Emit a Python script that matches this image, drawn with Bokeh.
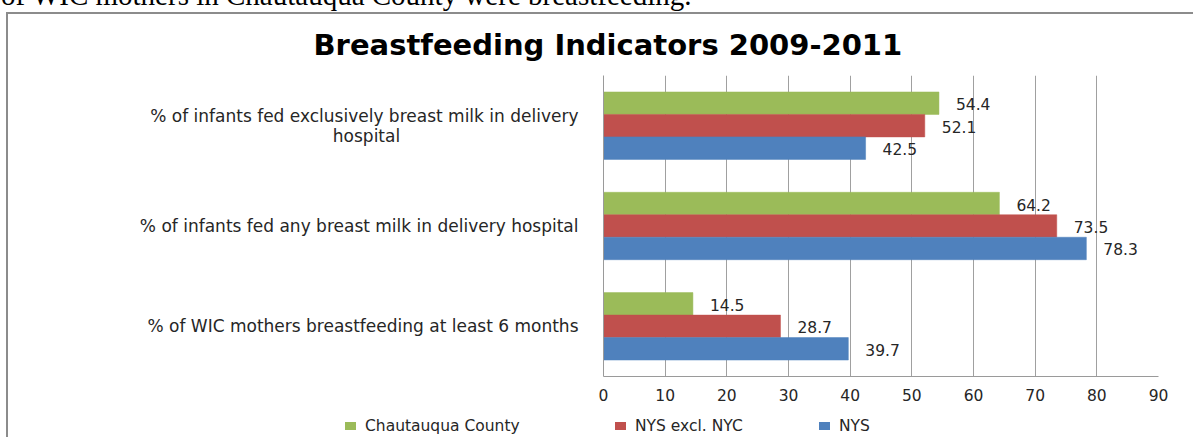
from bokeh.plotting import figure
from bokeh.models import (FactorRange, ColumnDataSource, LabelSet, FixedTicker, Div)
from bokeh.core.properties import value
from bokeh.transform import dodge
from bokeh.layouts import column
from bokeh.embed import file_html
from bokeh.resources import INLINE

# ---- data ----
NB = "\u00a0"
categories = [
    "% of infants fed exclusively breast milk in delivery\nhospital" + NB * 33,
    "% of infants fed any breast milk in delivery hospital",
    "% of WIC mothers breastfeeding at least 6 months",
]
chautauqua = [54.4, 64.2, 14.5]
nys_excl_nyc = [52.1, 73.5, 28.7]
nys = [42.5, 78.3, 39.7]
series_names = ["Chautauqua County", "NYS excl. NYC", "NYS"]
series_colors = ["#9BBB59", "#C0504D", "#4F81BD"]
x_ticks = [0, 10, 20, 30, 40, 50, 60, 70, 80, 90]
title_text = "Breastfeeding Indicators 2009-2011"
page_text = "of WIC mothers in Chautauqua County were breastfeeding."

TOTAL_W = 1193
GRAY = "#8c8c8c"

# ---- strip with the cut-off document line above the chart ----
top_html = (
    '<div style="position:relative;width:1193px;height:12px;overflow:hidden;">'
    '<span style="position:absolute;left:1px;top:-19px;font-family:\'Liberation Serif\';'
    'font-size:29px;line-height:29px;white-space:nowrap;color:#000;">'
    f'{page_text}</span></div>'
)
d0 = Div(text=top_html, width=TOTAL_W, height=12, margin=0)

# ---- main chart ----
p = figure(width=TOTAL_W, height=391, frame_width=555, frame_height=301,
           output_backend="svg", toolbar_location=None,
           y_range=FactorRange(*reversed(categories), range_padding=0),
           x_range=(0, 90),
           min_border_left=603, min_border_right=35, min_border_top=59, min_border_bottom=31)
p.outline_line_color = None
p.border_fill_color = None
p.background_fill_color = None
p.styles = {"box-shadow": f"inset 6px 0 0 0 #ffffff, inset 0 2px 0 0 {GRAY}, inset 8px 0 0 0 {GRAY}"}

source = ColumnDataSource(dict(cat=categories, c=chautauqua, r=nys_excl_nyc, n=nys,
                               cl=[f"{v}" for v in chautauqua],
                               rl=[f"{v}" for v in nys_excl_nyc],
                               nl=[f"{v}" for v in nys]))

bh = 0.224
offsets = [bh, 0.0, -bh]
fields = ["c", "r", "n"]
lfields = ["cl", "rl", "nl"]
for f, lf, off, col in zip(fields, lfields, offsets, series_colors):
    p.hbar(y=dodge("cat", off, range=p.y_range), right=f, left=0, height=bh,
           source=source, fill_color=col, line_color=col, line_width=0.5)
    p.add_layout(LabelSet(x=f, y=dodge("cat", off, range=p.y_range), text=lf, source=source,
                          x_offset=17, y_offset=-1, text_baseline="middle", text_align="left",
                          text_font=value("DejaVu Sans"), text_font_size=value("15.5px"),
                          text_color="#262626"))

# x axis
p.xaxis.ticker = FixedTicker(ticks=x_ticks)
p.xaxis.axis_line_color = "#9a9a9a"
p.xaxis.major_tick_line_color = None
p.xaxis.minor_tick_line_color = None
p.xaxis.major_tick_out = 0
p.xaxis.major_tick_in = 0
p.xaxis.major_label_standoff = 12
p.xaxis.major_label_text_font = "DejaVu Sans"
p.xaxis.major_label_text_font_size = "15.5px"
p.xaxis.major_label_text_color = "#262626"

# y axis (categories)
p.yaxis.axis_line_color = "#9a9a9a"
p.yaxis.major_tick_line_color = None
p.yaxis.minor_tick_line_color = None
p.yaxis.major_tick_out = 0
p.yaxis.major_tick_in = 0
p.yaxis.major_label_standoff = 25
p.yaxis.major_label_text_font = "DejaVu Sans"
p.yaxis.major_label_text_font_size = "17px"
p.yaxis.major_label_text_line_height = 1.0
p.yaxis.major_label_text_color = "#262626"

p.xgrid.grid_line_color = "#a0a0a0"
p.xgrid.grid_line_width = 1
p.ygrid.grid_line_color = None

# title
p.title.text = title_text
p.title.align = "left"
p.title.offset = -290
p.title.standoff = 27
p.title.text_font = "DejaVu Sans"
p.title.text_font_style = "bold"
p.title.text_font_size = "29px"
p.title.text_color = "black"

# ---- legend strip below the chart ----
key_left = [345, 615, 819]
parts = [f'<span style="position:absolute;left:6px;top:0;width:2px;height:34px;background:{GRAY};"></span>']
for name, col, kx in zip(series_names, series_colors, key_left):
    parts.append(f'<span style="position:absolute;left:{kx}px;top:15px;width:11px;height:8px;'
                 f'background:{col};"></span>')
    parts.append(f'<span style="position:absolute;left:{kx + 20}px;top:9px;line-height:20px;">'
                 f'{name}</span>')
legend_html = ('<div style="position:relative;width:1193px;height:34px;font-family:\'DejaVu Sans\';'
               'font-size:15.5px;color:#262626;white-space:nowrap;">' + "".join(parts) + '</div>')
d2 = Div(text=legend_html, width=TOTAL_W, height=34, margin=0)

layout = column(d0, p, d2, spacing=0)
open("out.html", "w").write(file_html(layout, INLINE))
